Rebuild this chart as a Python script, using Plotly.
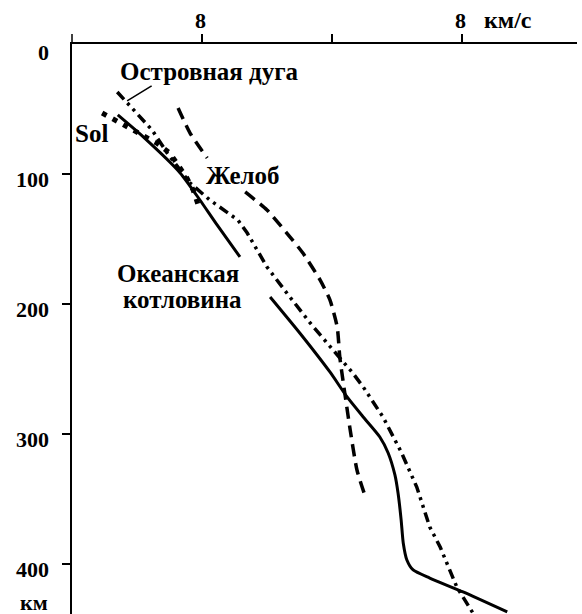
import plotly.graph_objects as go

# ---- data (velocity km/s, depth km) ----
arc_v = [7.837, 7.871, 7.904, 7.933, 7.977, 8.015, 8.069, 8.087, 8.125, 8.163, 8.208,
         8.252, 8.290, 8.310, 8.348, 8.383, 8.413, 8.438, 8.458, 8.490, 8.521]
arc_d = [36.9, 51.5, 66.2, 83.8, 106.9, 120.0, 135.4, 145.4, 171.5, 191.5, 214.6,
         235.4, 253.1, 263.8, 286.9, 313.8, 340.8, 371.5, 386.9, 417.7, 437.7]

ocean_v = [7.838, 7.887, 7.958, 7.996, 8.029, 8.073, None,
           8.131, 8.188, 8.246, 8.279, 8.310, 8.342, 8.358, 8.371, 8.377, 8.383,
           8.387, 8.394, 8.406, 8.438, 8.502, 8.587]
ocean_d = [54.6, 71.5, 99.2, 120.0, 139.2, 163.8, None,
           194.6, 222.3, 252.3, 271.5, 286.9, 302.3, 314.6, 331.5, 345.4, 366.2,
           383.8, 396.9, 404.6, 410.8, 421.5, 436.9]

trench_v = [7.954, 7.977, 8.010, None, 8.083, 8.125, 8.163, 8.194, 8.227, 8.246,
            8.260, 8.265, 8.271, 8.285, 8.298, 8.313]
trench_d = [49.2, 68.5, 87.7, None, 113.8, 127.7, 145.4, 160.8, 181.5, 196.9,
            217.7, 240.8, 258.5, 296.9, 327.7, 346.9]

sol_v = [7.808, 7.837, 7.862, 7.887, 7.913, 7.938, 7.958, 7.971, 7.983, 7.992]
sol_d = [53.1, 59.2, 64.6, 70.8, 76.2, 83.8, 94.6, 103.1, 112.3, 123.1]

x_tick_vals = [8.0, 8.25, 8.5]
x_tick_text = ["8", "", "8"]
y_tick_vals = [100, 200, 300, 400]
y_tick_text = ["100", "200", "300", "400"]

FONT = "Liberation Serif"
fig = go.Figure()
fig.add_trace(go.Scatter(x=arc_v, y=arc_d, mode="lines",
                         line=dict(color="black", width=3.5,
                                   dash="10px,5px,3px,5px,3px,5px")))
fig.add_trace(go.Scatter(x=ocean_v, y=ocean_d, mode="lines", connectgaps=False,
                         line=dict(color="black", width=3, shape="spline", smoothing=0.6)))
fig.add_trace(go.Scatter(x=trench_v, y=trench_d, mode="lines", connectgaps=False,
                         line=dict(color="black", width=3.5, dash="12px,7px",
                                   shape="spline", smoothing=0.6)))
fig.add_trace(go.Scatter(x=sol_v, y=sol_d, mode="lines",
                         line=dict(color="black", width=5, dash="5px,7px")))

lab = dict(family=FONT, size=25, color="black", weight="bold")
ann = []
ann.append(dict(x=8.015, y=21.5, text="Островная дуга", showarrow=False, font=lab))
ann.append(dict(x=7.787, y=69.2, text="Sol", showarrow=False, font=lab))
ann.append(dict(x=8.079, y=101.5, text="Желоб", showarrow=False, font=lab))
ann.append(dict(x=7.954, y=176.2, text="Океанская", showarrow=False, font=lab))
ann.append(dict(x=7.963, y=196.9, text="котловина", showarrow=False, font=lab))
# leader for island arc label
ann.append(dict(x=7.856, y=43.8, ax=7.906, ay=31.5, axref="x", ayref="y",
                text="", showarrow=True, arrowhead=0, arrowwidth=1.5, arrowcolor="black"))
# y-axis labels
num = dict(family=FONT, size=22, color="black", weight="bold")
for v, t in zip(y_tick_vals, y_tick_text):
    ann.append(dict(x=-0.0416, xref="paper", y=v, text=t, showarrow=False,
                    xanchor="right", yanchor="middle", yshift=-5, font=num))
ann.append(dict(x=-0.0416, xref="paper", y=0, text="0", showarrow=False,
                xanchor="right", yanchor="middle", yshift=-8, font=num))
ann.append(dict(x=-0.0752, xref="paper", y=429.5, text="км", showarrow=False,
                xanchor="center", yanchor="middle", borderpad=0,
                font=dict(family=FONT, size=22, color="black", weight="bold")))
# x-axis labels
for v, t in zip(x_tick_vals, x_tick_text):
    if t:
        ann.append(dict(x=v, y=1.0421, yref="paper", text=t, showarrow=False,
                        xanchor="center", yanchor="middle", xshift=-2, font=num))
ann.append(dict(x=0.8634, xref="paper", y=1.0421, yref="paper", text="км/с",
                showarrow=False, xanchor="center", yanchor="middle",
                font=dict(family=FONT, size=24, color="black", weight="bold")))

fig.update_layout(
    width=582, height=614, autosize=False,
    margin=dict(l=72, r=5, t=44, b=0),
    paper_bgcolor="white", plot_bgcolor="white",
    showlegend=False, annotations=ann,
    xaxis=dict(range=[7.75, 7.75 + 505 / 520], side="top", showgrid=False, zeroline=False,
               showline=True, linecolor="black", linewidth=1.5,
               ticks="outside", ticklen=8, tickwidth=1.5, tickcolor="black",
               tickvals=x_tick_vals, showticklabels=False, fixedrange=True),
    yaxis=dict(range=[570 / 1.3, 0], showgrid=False, zeroline=False,
               showline=True, linecolor="black", linewidth=1.5,
               ticks="outside", ticklen=8, tickwidth=1.5, tickcolor="black",
               tickvals=y_tick_vals, showticklabels=False, fixedrange=True),
    shapes=[dict(type="line", xref="paper", yref="paper", x0=0, x1=0,
                 y0=1, y1=1 + 10 / 570, line=dict(color="black", width=1.5))],
)
fig.write_html("out.html", config={"displayModeBar": False},
               post_script="document.body.style.margin='0';document.body.style.overflow='hidden';")
